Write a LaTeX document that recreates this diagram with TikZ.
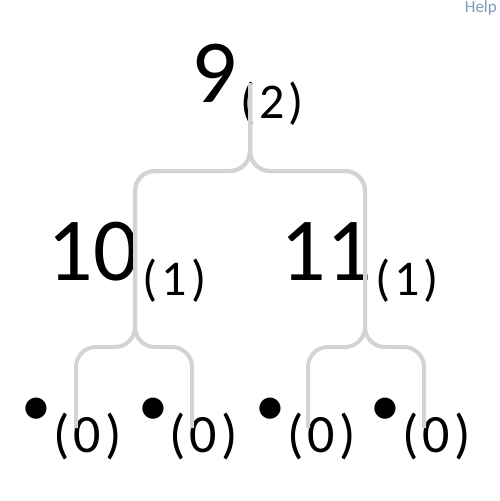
\documentclass[tikz,border=0pt]{standalone}
\usepackage{fontspec}
\setmainfont{Carlito}
\definecolor{edgegray}{RGB}{211,211,211}
\definecolor{helpblue}{RGB}{125,155,190}
\newcommand{\pr}[1]{(\kern4pt#1\kern4pt)}
\begin{document}
\begin{tikzpicture}[x=1pt,y=-1pt,
  big/.style={inner sep=0pt,anchor=base,font=\fontsize{90}{92}\selectfont},
  sub/.style={inner sep=0pt,anchor=base,font=\fontsize{50}{52}\selectfont},
  leafsub/.style={inner sep=0pt,anchor=base,font=\fontsize{54}{56}\selectfont},
  dot/.style={inner sep=0pt,anchor=center,font=\fontsize{60}{62}\selectfont},
  edge/.style={draw=edgegray,line width=4pt,rounded corners=20pt}]
\useasboundingbox (0,0) rectangle (500,501);
% labels
\node[big] (n9) at (214,102) {9};
\node[sub] (s9) at (272,118) {\pr{2}};
\node[big] (n10) at (93.5,280) {10};
\node[sub] (s10) at (174.5,295) {\pr{1}};
\node[big] (n11) at (326.5,280) {11};
\node[sub] (s11) at (407,295) {\pr{1}};
\node[dot] (d1) at (36,412) {•};
\node[leafsub] (z1) at (87.5,452) {\pr{0}};
\node[dot] (d2) at (153,412) {•};
\node[leafsub] (z2) at (203.5,452) {\pr{0}};
\node[dot] (d3) at (270,412) {•};
\node[leafsub] (z3) at (321.5,452) {\pr{0}};
\node[dot] (d4) at (385,412) {•};
\node[leafsub] (z4) at (436.5,452) {\pr{0}};
\node[inner sep=0pt,anchor=base east,text=helpblue,font=\fontsize{17}{19}\selectfont] (help) at (497,12) {Help};
% connector points
\coordinate (rt) at (250,83);
\coordinate (bl) at (135,347);
\coordinate (br) at (365,347);
\coordinate (l1) at (76,428);
\coordinate (l2) at (192,428);
\coordinate (l3) at (308,428);
\coordinate (l4) at (424,428);
% connectors
\draw[edge] (rt) -- ++(0,88) -| (bl) -| (l1);
\draw[edge] (rt) -- ++(0,88) -| (bl) -| (l2);
\draw[edge] (rt) -- ++(0,88) -| (br) -| (l3);
\draw[edge] (rt) -- ++(0,88) -| (br) -| (l4);
\end{tikzpicture}
\end{document}
